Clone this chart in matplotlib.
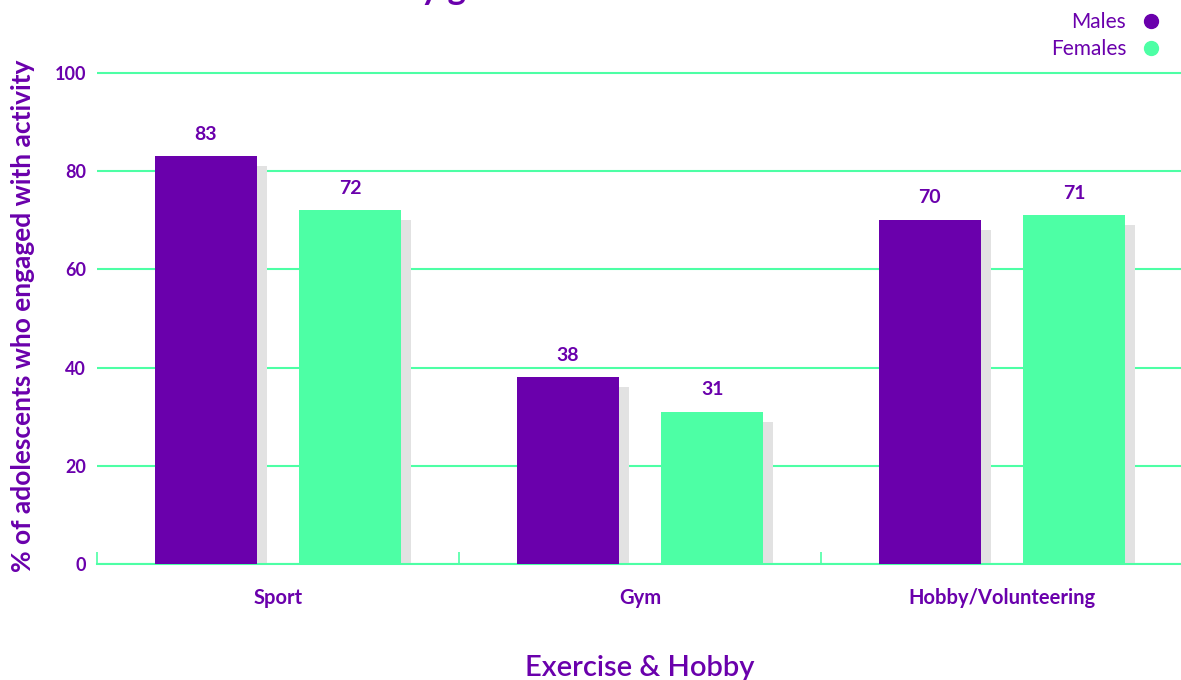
import matplotlib.pyplot as plt
from matplotlib.lines import Line2D
import numpy as np

categories = ["Sport", "Gym", "Hobby/Volunteering"]
males = [83, 38, 70]
females = [72, 31, 71]
series_names = ["Males", "Females"]
title_text = "Activities by gender"

PURPLE = "#6a00ac"
GREEN = "#4dffa5"
SHADOW = "#e2e2e2"

plt.rcParams["font.family"] = ["Lato", "DejaVu Sans"]

fig = plt.figure(figsize=(11.81, 6.80), dpi=100)
# y axis: 0 at y=564px, 100 at y=73px; leave a little headroom for the top gridline
ax = fig.add_axes([97 / 1181, 116 / 680, 1086 / 1181, (491 * 1.01) / 680])

x = np.arange(len(categories))
w = 0.282
off = 0.2
sh_dx = 0.0276  # shadow shift to the right

for vals, dx, col in [(males, -off, PURPLE), (females, off, GREEN)]:
    vals = np.array(vals)
    ax.bar(x + dx + sh_dx, vals - 2, width=w, color=SHADOW, zorder=2)
    bars = ax.bar(x + dx, vals, width=w, color=col, zorder=3)
    for b, v in zip(bars, vals):
        ax.annotate(f"{v}", (b.get_x() + b.get_width() / 2, v),
                    xytext=(0, 10), textcoords="offset points",
                    ha="center", va="bottom", color=PURPLE,
                    fontsize=14, fontweight="bold")

ax.set_xlim(-0.5, len(categories) - 0.5)
ax.set_ylim(0, 101)
ax.set_yticks([0, 20, 40, 60, 80, 100])
ax.grid(axis="y", color=GREEN, linewidth=1.5, zorder=1)
ax.set_axisbelow(True)

# boundary ticks (major) and category labels (minor)
ax.set_xticks(np.arange(-0.5, len(categories), 1.0))
ax.set_xticklabels([])
ax.set_xticks(x, minor=True)
ax.set_xticklabels(categories, minor=True, fontsize=14.5,
                   fontweight="bold", color=PURPLE)
ax.tick_params(axis="x", which="major", direction="in", length=9,
               width=1.2, color=GREEN)
ax.tick_params(axis="x", which="minor", length=0, pad=17)
ax.tick_params(axis="y", length=0, pad=8, labelsize=13,
               labelcolor=PURPLE)
for lab in ax.get_yticklabels():
    lab.set_fontweight("bold")

for s in ["top", "right", "left"]:
    ax.spines[s].set_visible(False)
ax.spines["bottom"].set_color(GREEN)
ax.spines["bottom"].set_linewidth(1.5)

ax.set_ylabel("% of adolescents who engaged with activity", color=PURPLE,
              fontsize=19, fontweight="bold", labelpad=14)
ax.set_xlabel("Exercise & Hobby", color=PURPLE, fontsize=21,
              fontweight="semibold", labelpad=34)

handles = [Line2D([], [], marker="o", linestyle="", color=c, markersize=10)
           for c in (PURPLE, GREEN)]
leg = fig.legend(handles, series_names, loc="upper right",
                 bbox_to_anchor=(1172 / 1181, 1 - 2 / 680), frameon=False,
                 markerfirst=False, fontsize=15, handlelength=1.0,
                 handletextpad=0.7, labelspacing=0.33, borderpad=0)
for t in leg.get_texts():
    t.set_color(PURPLE)

# title sits mostly above the visible canvas
fig.text(0.34, 1.0 + 1 / 680, title_text, ha="center", va="baseline",
         color=PURPLE, fontsize=25, fontweight="bold")

fig.savefig("out.png", dpi=100)
